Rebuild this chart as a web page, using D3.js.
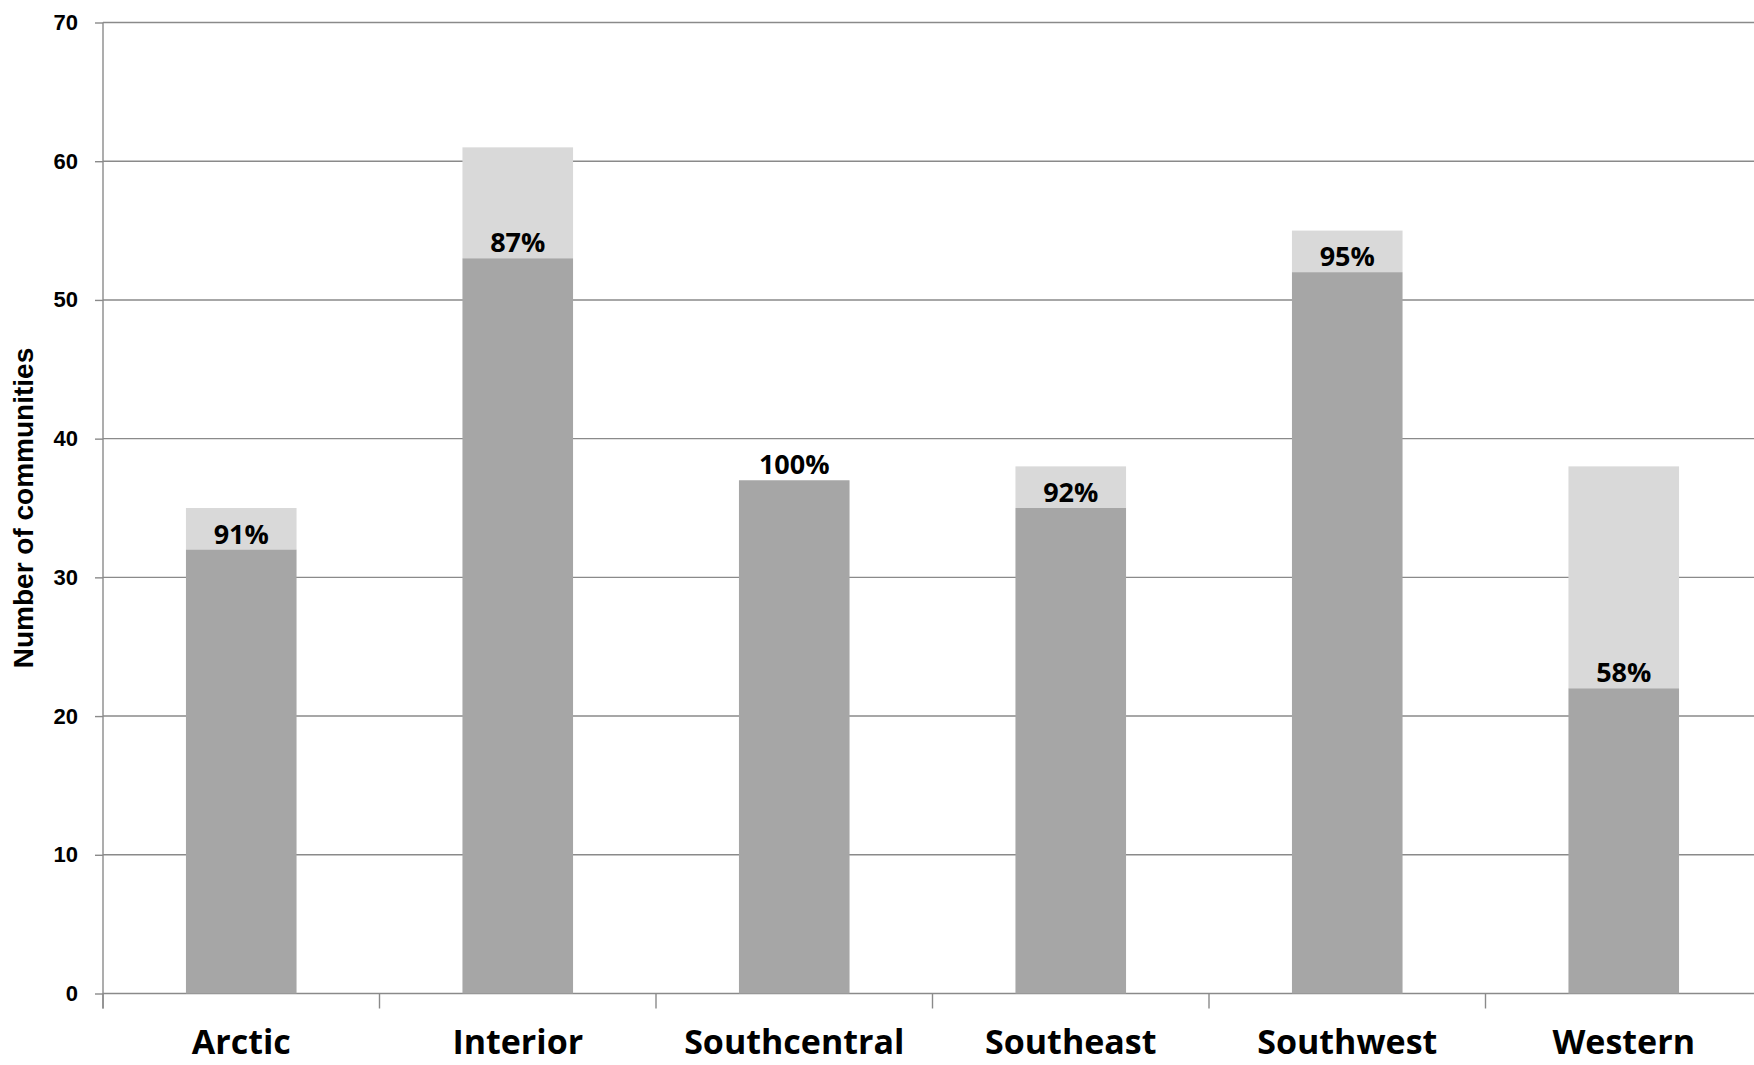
<!DOCTYPE html>
<html>
<head>
<meta charset="utf-8">
<script src="https://cdn.jsdelivr.net/npm/d3@7/dist/d3.min.js"></script>
<style>
  html, body { margin: 0; padding: 0; background: #ffffff; }
  svg { display: block; }
</style>
</head>
<body>
<svg id="chart" width="1754" height="1065"></svg>
<script>
// Communities per region: total, and how many of them are covered
const regions   = ["Arctic", "Interior", "Southcentral", "Southeast", "Southwest", "Western"];
const covered   = [32, 53, 37, 35, 52, 22];
const totals    = [35, 61, 37, 38, 55, 38];
const pctLabels = ["91%", "87%", "100%", "92%", "95%", "58%"];
const yTicks    = [0, 10, 20, 30, 40, 50, 60, 70];

const svg = d3.select("#chart");

const plot = { left: 103, top: 22.5, bottom: 993.5, right: 1762 };

const x = d3.scaleBand()
  .domain(regions)
  .range([plot.left, plot.right])
  .paddingInner(0.6)
  .paddingOuter(0.3);

const y = d3.scaleLinear()
  .domain([0, 70])
  .range([plot.bottom, plot.top]);

const gridColor = "#8a8a8a";

// horizontal gridlines
svg.append("g")
  .selectAll("line")
  .data(yTicks)
  .join("line")
  .attr("x1", plot.left)
  .attr("x2", plot.right)
  .attr("y1", d => y(d))
  .attr("y2", d => y(d))
  .attr("stroke", gridColor)
  .attr("stroke-width", 1.4);

// y axis with labels
const yAxis = svg.append("g")
  .attr("transform", `translate(${plot.left},0)`)
  .call(d3.axisLeft(y).tickValues(yTicks).tickSize(8).tickSizeOuter(0).tickPadding(17));
yAxis.select(".domain").remove();
yAxis.selectAll(".tick line").attr("stroke", gridColor).attr("stroke-width", 1.4);
yAxis.selectAll(".tick text")
  .attr("fill", "#000")
  .style("font-family", "'Liberation Sans', Arial, sans-serif")
  .style("font-weight", "bold")
  .style("font-size", "22px");

// vertical axis line, running a little below zero
svg.append("line")
  .attr("x1", plot.left).attr("x2", plot.left)
  .attr("y1", plot.top).attr("y2", plot.bottom + 15)
  .attr("stroke", gridColor)
  .attr("stroke-width", 1.4);

// category boundary ticks
const gap = (x.step() - x.bandwidth()) / 2;
const bounds = regions.map(r => x(r) - gap).concat([x(regions[regions.length - 1]) + x.bandwidth() + gap]);
svg.append("g")
  .selectAll("line")
  .data(bounds)
  .join("line")
  .attr("x1", d => d).attr("x2", d => d)
  .attr("y1", plot.bottom).attr("y2", plot.bottom + 15)
  .attr("stroke", gridColor)
  .attr("stroke-width", 1.4);

const rows = regions.map((r, i) => ({ region: r, covered: covered[i], total: totals[i], label: pctLabels[i] }));

// light segment: remaining communities stacked on top
svg.append("g")
  .selectAll("rect")
  .data(rows)
  .join("rect")
  .attr("x", d => x(d.region))
  .attr("width", x.bandwidth())
  .attr("y", d => y(d.total))
  .attr("height", d => y(d.covered) - y(d.total))
  .attr("fill", "#d9d9d9");

// dark segment: covered communities
svg.append("g")
  .selectAll("rect")
  .data(rows)
  .join("rect")
  .attr("x", d => x(d.region))
  .attr("width", x.bandwidth())
  .attr("y", d => y(d.covered))
  .attr("height", d => y(0) - y(d.covered))
  .attr("fill", "#a6a6a6");

// percentage labels sitting on the dark segment
svg.append("g")
  .selectAll("text")
  .data(rows)
  .join("text")
  .attr("x", d => x(d.region) + x.bandwidth() / 2)
  .attr("y", d => y(d.covered) - 6)
  .attr("text-anchor", "middle")
  .style("font-family", "'Open Sans', sans-serif")
  .style("font-weight", "bold")
  .style("font-size", "27px")
  .attr("fill", "#000")
  .text(d => d.label);

// category labels
const xAxis = svg.append("g")
  .attr("transform", `translate(0,${plot.bottom})`)
  .call(d3.axisBottom(x).tickSize(0).tickPadding(0));
xAxis.select(".domain").remove();
xAxis.selectAll(".tick text")
  .attr("dy", null)
  .attr("y", 60)
  .attr("fill", "#000")
  .style("font-family", "'Open Sans', sans-serif")
  .style("font-weight", "bold")
  .style("font-size", "34px");

// y axis title
svg.append("text")
  .attr("transform", `translate(33,${(plot.top + plot.bottom) / 2}) rotate(-90)`)
  .attr("text-anchor", "middle")
  .style("font-family", "'Liberation Sans', Arial, sans-serif")
  .style("font-weight", "bold")
  .style("font-size", "28px")
  .attr("fill", "#000")
  .text("Number of communities");
</script>
</body>
</html>
